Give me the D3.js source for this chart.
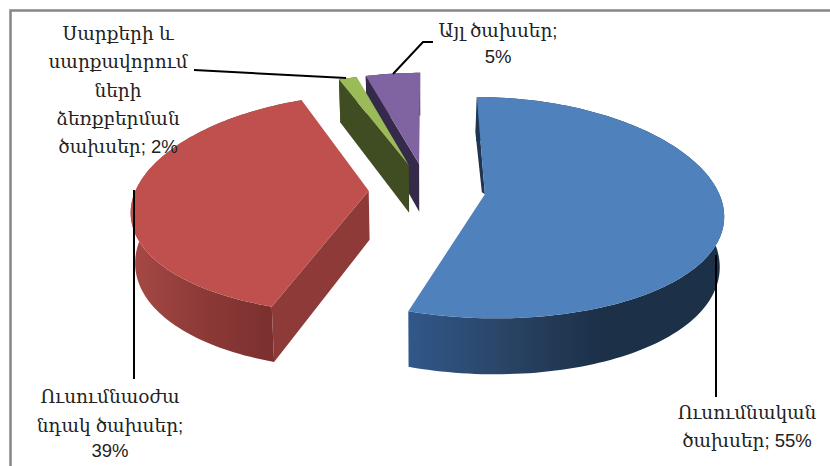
<!DOCTYPE html>
<html>
<head>
<meta charset="utf-8">
<script src="https://cdn.jsdelivr.net/npm/d3@7"></script>
<style>
  html, body { margin: 0; padding: 0; background: #fff; }
  text { font-family: "Liberation Sans", "DejaVu Serif", serif; font-size: 18.5px; fill: #222; }
</style>
</head>
<body>
<svg id="chart" width="830" height="466"></svg>
<script>
const categories = ["Ուսումնական ծախսեր", "Ուսումնաօժանդակ ծախսեր", "Սարքերի և սարքավորումների ձեռքբերման ծախսեր", "Այլ ծախսեր"];
// unrounded shares, the labels carry the rounded ones
const shares = [55.2, 39, 1.5, 4.5];
const topColors = ["#4f81bd", "#c0504d", "#9bbb59", "#8064a2"];
const sideColors = ["#1f3550", "#8d3a38", "#404d22", "#352a4a"];
const wallStops = [["#30588a", "#2a4466", "#1c3048"], ["#a64946", "#8d3a38", "#7b302e"], ["#404d22", "#404d22", "#404d22"], ["#352a4a", "#352a4a", "#352a4a"]];
const labelLines = [
  ["Ուսումնական", "ծախսեր; 55%"],
  ["Ուսումնաօժա", "նդակ ծախսեր;", "39%"],
  ["Սարքերի և", "սարքավորում", "ների", "ձեռքբերման", "ծախսեր; 2%"],
  ["Այլ ծախսեր;", "5%"]
];

// projection of the tilted pie, fitted by eye
const cx = 427, cy = 190, scaleX = 233, scaleY = 108, persp = 0.12, perspX = 0.16;
const explode = 0.25, depth = 49, bottomShrink = 0.985;

const svg = d3.select("#chart");
const defs = svg.append("defs");

// frame only has top and left sides
svg.append("path").attr("d", "M10.5,466V10.5H830").attr("fill", "none").attr("stroke", "#868686").attr("stroke-width", 2.5);

const pie = d3.pie().sort(null)(shares);

function project(X, Y, low) {
  const s = 1 / (1 + persp * Y);
  let x = cx + scaleX * X / (1 + perspX * Y);
  let y = cy - scaleY * Y * s;
  if (low) {
    x = cx + (x - cx) * bottomShrink;
    y += depth * s;
  }
  return [x, y];
}

const line = d3.line();

function slicePoints(d) {
  const mid = (d.startAngle + d.endAngle) / 2;
  const ox = explode * Math.sin(mid), oy = explode * Math.cos(mid);
  const at = (a, low) => project(ox + Math.sin(a), oy + Math.cos(a), low);
  const apex = low => project(ox, oy, low);
  const n = Math.ceil((d.endAngle - d.startAngle) * 40) + 1;
  const angles = d3.range(n + 1).map(i => d.startAngle + (d.endAngle - d.startAngle) * i / n);
  return { at, apex, angles };
}

// back slices first
const order = [3, 2, 1, 0];

order.forEach(i => {
  const d = pie[i];
  const { at, apex, angles } = slicePoints(d);
  const g = svg.append("g");

  const outer = angles.map(a => at(a, false));
  const outerLow = angles.map(a => at(a, true));
  const xs = outer.map(p => p[0]);

  const gradId = "wall" + i;
  const grad = defs.append("linearGradient").attr("id", gradId)
    .attr("gradientUnits", "userSpaceOnUse")
    .attr("x1", d3.min(xs)).attr("x2", i === 0 ? 600 : at(d.startAngle, false)[0])
    .attr("y1", 0).attr("y2", 0);
  wallStops[i].forEach((c, k) => grad.append("stop").attr("offset", k / 2).attr("stop-color", c));

  // outer wall
  g.append("path")
    .attr("d", line(outer.concat(outerLow.slice().reverse())) + "Z")
    .attr("fill", `url(#${gradId})`);

  // cut faces that face the viewer
  if (i === 1) {
    g.append("path")
      .attr("d", line([apex(false), at(d.startAngle, false), at(d.startAngle, true), apex(true)]) + "Z")
      .attr("fill", sideColors[i]);
  }
  if (i === 2 || i === 3) {
    g.append("path")
      .attr("d", line([at(d.startAngle, false), apex(false), apex(true), at(d.startAngle, true)]) + "Z")
      .attr("fill", sideColors[i]);
  }
  if (i === 0) {
    // thin sliver along the start edge
    const a = at(d.startAngle, false), b = apex(false);
    g.append("path")
      .attr("d", line([a, b, [b[0] - 3, b[1] - 2], [a[0] - 1.5, a[1] + 35]]) + "Z")
      .attr("fill", sideColors[i]);
  }

  // top face
  g.append("path")
    .attr("d", line([apex(false)].concat(outer)) + "Z")
    .attr("fill", topColors[i]);
});

// leader lines
const leaders = [
  [[716, 255], [716, 397]],
  [[134, 190], [134, 379]],
  [[194, 70], [346, 78]],
  [[433, 42], [423, 42], [393, 74]]
];
svg.selectAll("path.leader").data(leaders).enter().append("path")
  .attr("class", "leader")
  .attr("d", d => line(d))
  .attr("fill", "none")
  .attr("stroke", "#000")
  .attr("stroke-width", 2);

// labels
const labelPos = [
  { x: 747, y: [419, 447] },
  { x: 110, y: [403, 432, 457] },
  { x: 118, y: [40, 68, 97, 125, 153] },
  { x: 498, y: [37, 63] }
];
labelLines.forEach((lines, i) => {
  svg.append("g").attr("aria-label", categories[i]).selectAll("text").data(lines).enter().append("text")
    .attr("x", labelPos[i].x)
    .attr("y", (d, k) => labelPos[i].y[k])
    .attr("text-anchor", "middle")
    .text(d => d);
});
</script>
</body>
</html>
